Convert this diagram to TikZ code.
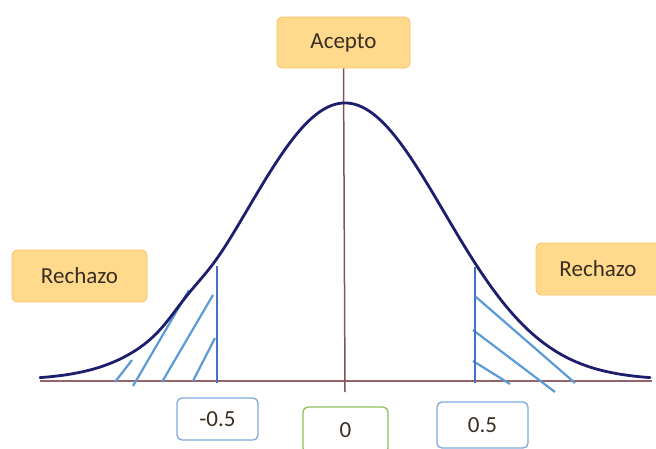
\documentclass[tikz,border=0pt]{standalone}
\usepackage{fontspec}
\setmainfont{Carlito}
\definecolor{boxfill}{HTML}{FFD98C}
\definecolor{boxline}{HTML}{F4C26A}
\definecolor{curvecol}{HTML}{1E1E6E}
\definecolor{hatchcol}{HTML}{5B9BD5}
\definecolor{edgecol}{HTML}{4472C4}
\definecolor{axiscol}{HTML}{956468}
\definecolor{valblue}{HTML}{7FAADB}
\definecolor{valgreen}{HTML}{8CBF5A}
\definecolor{txt}{HTML}{3A2E22}
\begin{document}
\begin{tikzpicture}[x=1pt,y=-1pt,
  region/.style={draw=boxline,fill=boxfill,rounded corners=5pt,line width=0.8pt,
    font=\fontsize{23}{26}\selectfont,text=txt,inner sep=0pt},
  value/.style={draw=valblue,fill=white,rounded corners=5pt,line width=1.3pt,
    font=\fontsize{23}{26}\selectfont,text=txt,inner sep=0pt},
  hatch/.style={hatchcol,line width=2.2pt},
  edge/.style={edgecol,line width=2.4pt}]
\useasboundingbox (0,0) rectangle (656,448);
% boxes
\node[region,minimum width=133pt,minimum height=51pt] (acepto) at (343.5,42.5) {Acepto};
\node[region,minimum width=135pt,minimum height=52pt] (rechL) at (79.5,276) {Rechazo};
\node[region,minimum width=124pt,minimum height=52pt] (rechR) at (598,269) {Rechazo};
\node[value,minimum width=81pt,minimum height=42pt] (bm) at (217.5,419) {-0.5};
\node[value,draw=valgreen,minimum width=85pt,minimum height=46pt] (b0) at (345.5,430) {0};
\node[value,minimum width=91pt,minimum height=46pt] (bp) at (482.5,425) {0.5};
% axes
\coordinate (axL) at (40,381);
\coordinate (axR) at (652,381);
\coordinate (vb) at (345,392);
\draw[axiscol,line width=2.3pt] (axL) -- (axR);
\draw[axiscol!85!black,line width=1.5pt] (acepto.south) -- (vb);
% hatching left
\draw[hatch] (115,382) -- (132,360);
\draw[hatch] (133,386) -- (189,290);
\draw[hatch] (162,382) -- (213,295);
\draw[hatch] (193,381) -- (215,338);
\draw[edge] (217,266) -- (217,383);
% hatching right
\draw[hatch] (476,297) -- (575,383);
\draw[hatch] (473,330) -- (555,392);
\draw[hatch] (473,361) -- (510,384);
\draw[edge] (475,267) -- (475,383);
% curve
\draw[curvecol,line width=2.8pt,line cap=round]
  plot[domain=40:650,samples=240,smooth]
  (\x,{380-277*exp(-0.5*((\x-345)/99)^2)-7*exp(-0.5*((\x-187)/17)^2)});
\end{tikzpicture}
\end{document}
